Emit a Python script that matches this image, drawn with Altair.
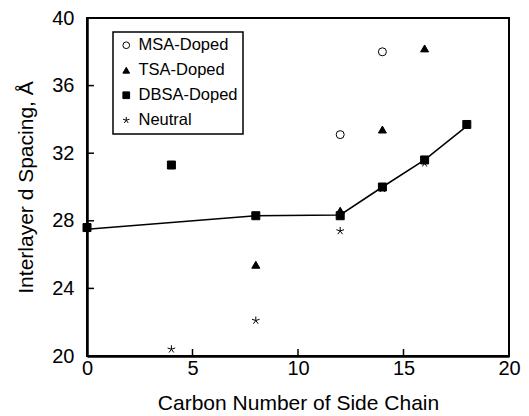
import altair as alt
import pandas as pd

# ---- data ----
series_names = ["MSA-Doped", "TSA-Doped", "DBSA-Doped", "Neutral"]

msa_x = [12, 14]
msa_y = [33.1, 38.0]

tsa_x = [8, 12, 14, 16]
tsa_y = [25.4, 28.6, 33.4, 38.2]

dbsa_x = [0, 4, 8, 12, 14, 16, 18]
dbsa_y = [27.6, 31.3, 28.3, 28.3, 30.0, 31.6, 33.7]

neutral_x = [4, 8, 12, 14, 16]
neutral_y = [20.4, 22.1, 27.4, 29.9, 31.4]

fit_x = [0, 8, 12, 14, 16, 18]
fit_y = [27.5, 28.3, 28.35, 30.0, 31.6, 33.6]

x_ticks = [0, 5, 10, 15, 20]
y_ticks = [20, 24, 28, 32, 36, 40]

star_path = ("M0,0L0,-1M0,0L0.951,-0.309M0,0L0.588,0.809"
             "M0,0L-0.588,0.809M0,0L-0.951,-0.309")

# draw order: DBSA squares last so they sit on top
rows = []
for name, xs, ys in [("MSA-Doped", msa_x, msa_y),
                     ("TSA-Doped", tsa_x, tsa_y),
                     ("Neutral", neutral_x, neutral_y),
                     ("DBSA-Doped", dbsa_x, dbsa_y)]:
    for a, b in zip(xs, ys):
        rows.append({"series": name, "c": a, "d": b})
pts = pd.DataFrame(rows)
fit = pd.DataFrame({"c": fit_x, "d": fit_y})

xscale = alt.Scale(domain=[0, 20], nice=False)
yscale = alt.Scale(domain=[20, 40], nice=False)

xaxis = alt.Axis(title="Carbon Number of Side Chain", values=x_ticks, format="d",
                 labelPadding=2, titlePadding=14, labelFlush=False)
yaxis = alt.Axis(title="Interlayer d Spacing, Å", values=y_ticks, format="d",
                 labelPadding=13, titlePadding=15, labelFlush=False)

legend = alt.Legend(title=None, orient="none", legendX=26, legendY=14,
                    strokeColor="black", fillColor="white", padding=5,
                    labelFontSize=16.5, symbolSize=45, rowPadding=8, labelOffset=4,
                    symbolStrokeWidth=1)

line = alt.Chart(fit).mark_line(color="black", strokeWidth=1.5).encode(
    x=alt.X("c:Q", scale=xscale, axis=xaxis),
    y=alt.Y("d:Q", scale=yscale, axis=yaxis),
)

xt = alt.Chart(pd.DataFrame({"c": x_ticks})).mark_tick(
    orient="vertical", size=7, thickness=1.5, color="black", yOffset=-3.5, opacity=1
).encode(
    x=alt.X("c:Q", scale=xscale, axis=xaxis),
    y=alt.YDatum(20, scale=yscale, axis=yaxis),
)

yt = alt.Chart(pd.DataFrame({"d": y_ticks})).mark_tick(
    orient="horizontal", size=7, thickness=1.5, color="black", xOffset=3.5, opacity=1
).encode(
    x=alt.XDatum(0, scale=xscale, axis=xaxis),
    y=alt.Y("d:Q", scale=yscale, axis=yaxis),
)

points = alt.Chart(pts).mark_point(
    filled=True, strokeWidth=1, opacity=1, size=64
).encode(
    x=alt.X("c:Q", scale=xscale, axis=xaxis),
    y=alt.Y("d:Q", scale=yscale, axis=yaxis),
    shape=alt.Shape("series:N",
                    scale=alt.Scale(domain=series_names,
                                    range=["circle", "triangle-up", "square", star_path]),
                    legend=legend),
    fill=alt.Fill("series:N",
                  scale=alt.Scale(domain=series_names,
                                  range=["white", "black", "black", "transparent"]),
                  legend=legend),
    stroke=alt.Stroke("series:N",
                      scale=alt.Scale(domain=series_names,
                                      range=["black", "black", "black", "black"]),
                      legend=legend),
)

chart = alt.layer(line, xt, yt, points).properties(
    width=422, height=338,
    padding={"left": 87, "top": 18, "right": 20, "bottom": 60},
    autosize=alt.AutoSizeParams(type="none"),
    background="white",
).configure(
    font="Liberation Sans",
).configure_view(
    stroke="black", strokeWidth=2,
).configure_axis(
    grid=False, ticks=False, tickSize=0,
    domainColor="black", domainWidth=2.5,
    labelColor="black", labelFontSize=20,
    titleColor="black", titleFontSize=21, titleFontWeight="normal",
).configure_legend(
    strokeWidth=1.5, labelColor="black",
)

chart.save("out.html", embed_options={"renderer": "svg", "actions": False})
